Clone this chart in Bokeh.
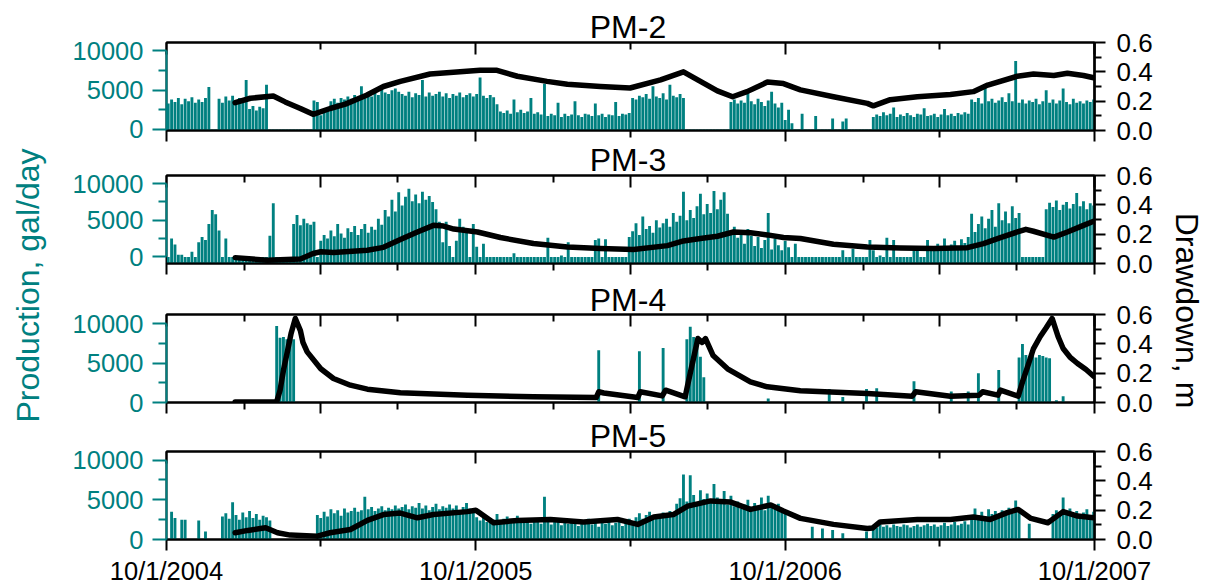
import numpy as np
from bokeh.plotting import figure
from bokeh.models import (Range1d, LinearAxis, FixedTicker, Label, GridBox,
                          CustomJSTickFormatter, NumeralTickFormatter)
from bokeh.layouts import column
from bokeh.embed import file_html
from bokeh.resources import INLINE

TEAL = "#008080"
FONT = "Liberation Sans"

# ---------------- data ----------------
START = "2004-10-01"
END = "2007-10-01"
BIN_DAYS = 4          # production values are 4-day readings starting at START

wells = ["PM-2", "PM-3", "PM-4", "PM-5"]

prod_pm2 = [
    3300, 3800, 3500, 4000, 3200, 3900, 3600, 4100, 3400, 3800,
    3500, 4000, 5400, 0, 0, 3900, 3400, 4200, 3700, 4300,
    3600, 4000, 3500, 6300, 2600, 3000, 2400, 2900, 2700, 5700,
    0, 0, 0, 0, 0, 0, 0, 0, 0, 0,
    0, 0, 0, 3700, 3500, 1800, 2200, 2600, 3600, 3900,
    3400, 4000, 3800, 4200, 3900, 4400, 4100, 5500, 4300, 4600,
    4200, 4800, 4400, 5100, 4700, 4500, 5000, 5200, 4800, 4500,
    4300, 4800, 4100, 4600, 4400, 6300, 4200, 4700, 4300, 4500,
    4800, 4200, 4600, 4000, 4500, 4300, 4700, 4100, 4400, 4600,
    4200, 4500, 6600, 4300, 4000, 4400, 4100, 3200, 2300, 2100,
    2400, 2000, 3800, 2200, 2500, 2100, 2300, 4000, 2000, 2200,
    1900, 5800, 1700, 2000, 1800, 3400, 1600, 2000, 1700, 1900,
    3600, 1800, 1600, 2000, 1900, 1700, 3300, 1800, 2000, 1600,
    1900, 1800, 3500, 1700, 2000, 1900, 2100, 4000, 3800, 4300,
    4100, 4500, 3900, 5500, 4200, 4000, 4600, 3800, 5700, 4300,
    4100, 4500, 4000, 0, 0, 0, 0, 0, 0, 0,
    0, 0, 0, 0, 0, 0, 3500, 3800, 3300, 3700,
    3400, 5100, 3600, 3200, 3900, 3500, 3000, 3700, 4800, 3300,
    2800, 3400, 1200, 2500, 800, 0, 0, 2000, 0, 0,
    0, 1700, 0, 0, 0, 0, 1400, 0, 0, 1000,
    1400, 0, 0, 0, 0, 0, 0, 0, 1600, 1900,
    1700, 2200, 1800, 2000, 2800, 1600, 1900, 1700, 2100, 1800,
    1600, 2000, 1900, 2700, 1700, 1800, 2000, 1600, 1900, 2600,
    1800, 2000, 1700, 2100, 1900, 2200, 2000, 3800, 3500, 4000,
    3300, 5300, 3600, 3900, 3400, 3700, 4100, 3500, 4600, 3600,
    8700, 3400, 3800, 3300, 3700, 3500, 3900, 3200, 3600, 5000,
    3400, 3800, 3300, 3700, 5200, 3500, 3200, 3900, 3400, 3600,
    3300, 3700, 3500, 3800,
]

prod_pm3 = [
    0, 2500, 1700, 300, 300, 0, 0, 700, 0, 2000,
    2700, 2300, 4500, 6400, 5800, 3600, 0, 2500, 0, 0,
    0, 0, 0, 0, 0, 0, 0, 0, 0, 0,
    2900, 7300, 0, 0, 0, 0, 0, 4500, 5700, 4300,
    5200, 4600, 4400, 4800, 0, 2200, 3000, 2500, 3600, 2800,
    4500, 3200, 2600, 3900, 3400, 4200, 3000, 3800, 4500, 3300,
    4100, 3700, 5200, 4400, 6400, 5500, 7800, 6200, 8800, 7000,
    8200, 9300, 7600, 8500, 7300, 8900, 7800, 8300, 7500, 6500,
    4800, 2000, 4800, 1500, 0, 2200, 5200, 4100, 3300, 0,
    4500, 1400, 0, 1800, 0, 0, 0, 0, 0, 0,
    0, 0, 500, 0, 0, 0, 0, 0, 0, 0,
    0, 0, 2600, 0, 0, 0, 200, 0, 2000, 0,
    0, 0, 0, 0, 0, 0, 2300, 2500, 0, 2400,
    0, 0, 0, 0, 0, 0, 2700, 3500, 4600, 3000,
    5500, 3800, 4200, 3300, 5000, 4000, 4600, 5200, 4100, 6000,
    4800, 5600, 8900, 5000, 6400, 5300, 6900, 8600, 5800, 7200,
    6000, 9000, 6500, 7800, 8800, 5900, 3400, 4100, 2600, 3200,
    1800, 3800, 2900, 1500, 2700, 1200, 2300, 6000, 1000, 2500,
    1600, 900, 2200, 1300, 0, 1800, 0, 0, 0, 0,
    0, 0, 0, 0, 0, 0, 0, 0, 0, 900,
    0, 0, 1100, 0, 0, 0, 0, 2300, 900, 0,
    200, 0, 2600, 0, 2300, 0, 0, 0, 0, 0,
    900, 1300, 0, 0, 2300, 1200, 900, 1800, 1500, 2500,
    1000, 1700, 2200, 1400, 2400, 1900, 2700, 5900, 3400, 4500,
    5500, 3900, 5200, 6400, 4100, 7300, 5000, 6200, 4600, 6900,
    5300, 6000, 0, 0, 0, 0, 0, 0, 0, 6500,
    7400, 6800, 7700, 6400, 7100, 7500, 6600, 7200, 8700, 6900,
    7600, 6500, 7300, 7000,
]

prod_pm4 = ([0] * 32 + [9700, 8200, 8300, 8000, 8200, 8000] + [0] * 89 + [6600]
            + [0] * 11 + [6500] + [0] * 6 + [6900] + [0] * 6
            + [8000, 9600, 8300, 8100, 5800, 3200] + [0] * 18 + [500] + [0] * 17
            + [1700] + [0] * 3 + [700] + [0] * 6 + [1700] + [0] * 2 + [1800]
            + [0] * 10 + [2700] + [0] * 10 + [1400] + [0] * 4 + [1400] + [0] * 2
            + [3700] + [0] * 5 + [4100] + [0] * 5
            + [5700, 7400, 6000, 5800, 6100, 5700, 6000, 5900, 5700, 5600]
            + [0, 300, 0, 800] + [0] * 9)

prod_pm5 = [
    0, 3500, 2700, 0, 2500, 2500, 0, 0, 0, 2400,
    0, 1000, 0, 0, 0, 0, 2900, 3300, 2600, 4700,
    3100, 2500, 3400, 2800, 3600, 2700, 3200, 2500, 3000, 2800,
    2400, 0, 0, 0, 0, 0, 0, 0, 0, 0,
    0, 0, 0, 0, 3100, 2700, 3500, 2900, 3800, 3300,
    3700, 3000, 3900, 3400, 3600, 4000, 3500, 3700, 5400, 3800,
    4100, 3600, 3900, 4200, 3700, 4000, 3800, 4300, 3900, 4100,
    4400, 3800, 4200, 4000, 4600, 3900, 4300, 3700, 4100, 4500,
    3800, 4200, 4000, 4400, 3900, 4300, 3700, 4100, 4600, 3900,
    3600, 2800, 2400, 3100, 2200, 2700, 2500, 3200, 2300, 2600,
    2900, 2100, 2500, 3000, 2200, 2700, 2400, 2000, 2600, 2300,
    2000, 5400, 2400, 1900, 2200, 2600, 1800, 2300, 2000, 2500,
    2100, 1700, 2400, 2000, 2600, 1900, 2200, 1600, 2300, 2000,
    2500, 1800, 2100, 2400, 1700, 2200, 2600, 2000, 2800, 3300,
    2600, 3100, 3500, 2900, 3200, 2700, 3400, 3000, 3600, 3100,
    4500, 5200, 8200, 4800, 8100, 5600, 4700, 6200, 5100, 5800,
    4600, 7000, 5300, 4900, 6100, 4400, 5500, 4200, 4800, 3900,
    4400, 5000, 3800, 4600, 4100, 5300, 3700, 5500, 4300, 3900,
    4500, 3600, 3300, 0, 0, 0, 0, 0, 0, 0,
    1600, 0, 0, 1400, 0, 0, 1200, 0, 0, 800,
    0, 0, 0, 0, 0, 0, 1000, 0, 1800, 1500,
    1900, 1600, 1800, 1500, 1900, 1700, 1600, 1900, 1800, 1500,
    1700, 1900, 1600, 1800, 2000, 1700, 1900, 1600, 1800, 2100,
    1700, 1900, 2200, 1800, 2000, 2300, 1900, 2800, 3900, 3100,
    3500, 2900, 3800, 3200, 3600, 3000, 3700, 3400, 4000, 3300,
    4900, 3600, 0, 0, 2000, 0, 0, 0, 0, 0,
    0, 3200, 3700, 3000, 5300, 3500, 3900, 3100, 3600, 2800,
    3400, 3800, 3000, 3500,
]

dd_dates_pm2 = ["2004-12-21", "2005-01-08", "2005-02-04", "2005-02-18", "2005-03-08",
                "2005-03-23", "2005-04-12", "2005-04-30", "2005-05-25", "2005-06-14",
                "2005-07-04", "2005-08-08", "2005-10-06", "2005-10-26", "2005-11-19",
                "2005-12-24", "2006-01-17", "2006-02-25", "2006-04-01", "2006-05-07",
                "2006-06-03", "2006-06-23", "2006-07-13", "2006-07-31", "2006-08-17",
                "2006-09-10", "2006-09-29", "2006-10-19", "2006-11-27", "2007-01-06",
                "2007-01-13", "2007-02-02", "2007-03-06", "2007-04-14", "2007-05-11",
                "2007-05-28", "2007-07-02", "2007-07-21", "2007-08-14", "2007-08-30",
                "2007-09-18", "2007-09-30"]
dd_pm2 = [0.19, 0.22, 0.235, 0.195, 0.15, 0.11, 0.15, 0.18, 0.24, 0.30,
          0.335, 0.385, 0.41, 0.41, 0.37, 0.335, 0.315, 0.30, 0.29, 0.345,
          0.40, 0.335, 0.27, 0.23, 0.265, 0.33, 0.32, 0.277, 0.23, 0.185,
          0.168, 0.21, 0.23, 0.245, 0.265, 0.31, 0.37, 0.385, 0.375, 0.39,
          0.375, 0.36]

dd_dates_pm3 = ["2004-12-21", "2005-01-28", "2005-02-12", "2005-03-08", "2005-03-23",
                "2005-04-01", "2005-04-16", "2005-05-26", "2005-06-14", "2005-07-04",
                "2005-07-24", "2005-08-12", "2005-08-24", "2005-09-05", "2005-10-03",
                "2005-10-30", "2005-12-08", "2006-01-17", "2006-02-25", "2006-04-05",
                "2006-05-15", "2006-06-03", "2006-06-23", "2006-07-13", "2006-08-01",
                "2006-08-21", "2006-09-10", "2006-09-29", "2006-10-19", "2006-11-27",
                "2007-01-06", "2007-02-14", "2007-03-25", "2007-05-04", "2007-05-23",
                "2007-06-12", "2007-07-02", "2007-07-12", "2007-07-21", "2007-08-14",
                "2007-08-30", "2007-09-18", "2007-09-30"]
dd_pm3 = [0.04, 0.022, 0.025, 0.03, 0.068, 0.08, 0.075, 0.09, 0.11, 0.163,
          0.215, 0.26, 0.255, 0.235, 0.215, 0.177, 0.136, 0.113, 0.102, 0.095,
          0.122, 0.154, 0.17, 0.186, 0.215, 0.21, 0.195, 0.177, 0.17, 0.131,
          0.113, 0.106, 0.102, 0.108, 0.136, 0.177, 0.215, 0.233, 0.22, 0.18,
          0.215, 0.26, 0.288]

dd_dates_pm4 = ["2004-12-21", "2005-02-08", "2005-02-12", "2005-02-16", "2005-02-21",
                "2005-02-25", "2005-03-02", "2005-03-08", "2005-03-11", "2005-03-16",
                "2005-04-01", "2005-04-16", "2005-05-06", "2005-05-26", "2005-07-04",
                "2005-09-21", "2005-12-08", "2006-02-20", "2006-02-23", "2006-03-01",
                "2006-04-10", "2006-04-13", "2006-05-09", "2006-05-13", "2006-06-05",
                "2006-06-11", "2006-06-20", "2006-06-25", "2006-06-29", "2006-07-08",
                "2006-07-25", "2006-08-21", "2006-09-10", "2006-10-19", "2007-01-06",
                "2007-02-28", "2007-03-04", "2007-04-14", "2007-05-18", "2007-05-22",
                "2007-06-09", "2007-06-12", "2007-07-03", "2007-07-08", "2007-07-14",
                "2007-07-21", "2007-07-29", "2007-08-05", "2007-08-12", "2007-08-19",
                "2007-08-25", "2007-09-02", "2007-09-11", "2007-09-21", "2007-09-30"]
dd_pm4 = [0.003, 0.005, 0.084, 0.22, 0.357, 0.47, 0.573, 0.49, 0.41, 0.345,
          0.23, 0.164, 0.118, 0.091, 0.067, 0.05, 0.039, 0.034, 0.073, 0.065,
          0.034, 0.073, 0.045, 0.084, 0.039, 0.2, 0.436, 0.41, 0.436, 0.32,
          0.23, 0.14, 0.107, 0.08, 0.061, 0.043, 0.073, 0.043, 0.05, 0.073,
          0.05, 0.084, 0.043, 0.14, 0.243, 0.368, 0.45, 0.51, 0.573, 0.45,
          0.368, 0.31, 0.266, 0.225, 0.18]

dd_dates_pm5 = ["2004-12-21", "2005-01-05", "2005-01-20", "2005-01-26", "2005-02-09",
                "2005-02-24", "2005-03-28", "2005-04-12", "2005-05-06", "2005-05-26",
                "2005-06-14", "2005-07-04", "2005-07-24", "2005-08-12", "2005-09-21",
                "2005-10-01", "2005-10-22", "2005-11-19", "2005-12-28", "2006-02-05",
                "2006-03-17", "2006-04-10", "2006-04-29", "2006-05-22", "2006-06-08",
                "2006-07-05", "2006-07-28", "2006-08-21", "2006-09-14", "2006-09-29",
                "2006-10-19", "2006-11-27", "2007-01-06", "2007-01-12", "2007-01-21",
                "2007-03-06", "2007-04-14", "2007-05-11", "2007-05-31", "2007-06-20",
                "2007-07-03", "2007-07-18", "2007-08-07", "2007-08-25", "2007-09-11",
                "2007-09-30"]
dd_pm5 = [0.046, 0.062, 0.075, 0.08, 0.046, 0.03, 0.023, 0.046, 0.068, 0.13,
          0.17, 0.18, 0.148, 0.17, 0.19, 0.2, 0.114, 0.13, 0.137, 0.12,
          0.137, 0.103, 0.153, 0.17, 0.228, 0.263, 0.256, 0.205, 0.235, 0.194,
          0.144, 0.103, 0.075, 0.078, 0.12, 0.137, 0.137, 0.153, 0.137, 0.183,
          0.205, 0.144, 0.114, 0.19, 0.16, 0.148]

year_ticks = ["2004-10-01", "2005-10-01", "2006-10-01", "2007-10-01"]
april_ticks = ["2005-04-01", "2006-04-01", "2007-04-01"]
quarter_ticks = ["2005-01-01", "2005-07-01", "2006-01-01", "2006-07-01",
                 "2007-01-01", "2007-07-01"]

prod_ticks = [0, 5000, 10000]
prod_minor = [2500, 7500]
dd_ticks = [0.0, 0.2, 0.4, 0.6]
dd_minor = [0.1, 0.3, 0.5]

prod_lo = [-130, -900, 0, 0]
prod_hi = [11060, 11100, 11140, 11090]

# ---------------- helpers ----------------
W, H = 1205, 585
TXT_SHIFT = 11   # Bokeh draws the alphabetic baseline this many px lower than the anchor


def ms(d):
    return np.atleast_1d(np.array(d, dtype="datetime64[ms]")).astype("int64").astype(float)


X0 = ms(START)[0]
X1 = ms(END)[0]
DAY = 86400000.0


def bar_centers(n):
    base = np.datetime64(START, "D")
    d = base + np.arange(n) * BIN_DAYS
    return d.astype("datetime64[ms]").astype("int64").astype(float) + 2 * DAY


def make_panel(i, prod, dd_dates, dd_vals, top_b, bot_b, quarterly, show_labels):
    p = figure(width=W, frame_width=928, frame_height=88,
               min_border_left=166, min_border_right=111,
               min_border_top=top_b, min_border_bottom=bot_b,
               x_range=Range1d(X0, X1), y_range=Range1d(prod_lo[i], prod_hi[i]),
               x_axis_location=None, y_axis_location=None,
               toolbar_location=None, tools="", output_backend="svg")
    p.grid.visible = False
    p.extra_y_ranges = {"dd": Range1d(0, 0.6)}
    p.outline_line_color = "black"
    p.outline_line_width = 2
    p.background_fill_color = "white"
    p.border_fill_color = "white"

    p.vbar(x=bar_centers(len(prod)), width=3.4 * DAY, top=prod, bottom=prod_lo[i],
           fill_color=TEAL, line_color=None)
    p.line(x=ms(dd_dates), y=dd_vals, y_range_name="dd", line_color="black",
           line_width=5.5, line_join="round", line_cap="round")

    la = LinearAxis(ticker=FixedTicker(ticks=prod_ticks, minor_ticks=prod_minor),
                    bounds=(0, 10000))
    la.axis_line_color = TEAL
    la.axis_line_width = 2
    la.major_tick_line_color = TEAL
    la.minor_tick_line_color = TEAL
    la.major_tick_line_width = 2
    la.minor_tick_line_width = 2
    la.major_tick_out = 14
    la.major_tick_in = 0
    la.minor_tick_out = 8
    la.minor_tick_in = 0
    la.major_label_text_color = TEAL
    la.major_label_text_font = FONT
    la.major_label_text_font_size = "25.5px"
    la.major_label_standoff = 9
    p.add_layout(la, "left")

    ra = LinearAxis(y_range_name="dd",
                    ticker=FixedTicker(ticks=dd_ticks, minor_ticks=dd_minor),
                    formatter=NumeralTickFormatter(format="0.0"))
    ra.axis_line_color = "black"
    ra.axis_line_width = 2.5
    ra.major_tick_line_width = 2
    ra.minor_tick_line_width = 2
    ra.major_tick_out = 11
    ra.major_tick_in = 0
    ra.minor_tick_out = 7
    ra.minor_tick_in = 0
    ra.major_label_text_color = "black"
    ra.major_label_text_font = FONT
    ra.major_label_text_font_size = "26px"
    ra.major_label_standoff = 11
    p.add_layout(ra, "right")

    if quarterly:
        major = ms(sorted(year_ticks + april_ticks))
        minor = ms(quarter_ticks)
    else:
        major = ms(year_ticks)
        minor = ms(april_ticks)

    blank = CustomJSTickFormatter(code="return '';")
    date_fmt = CustomJSTickFormatter(code="""
        const d = new Date(tick);
        return (d.getUTCMonth() + 1) + '/' + d.getUTCDate() + '/' + d.getUTCFullYear();
    """)

    for loc in ("below", "above"):
        ax = LinearAxis(ticker=FixedTicker(ticks=list(major), minor_ticks=list(minor)))
        ax.axis_line_color = "black"
        ax.axis_line_width = 2
        ax.major_tick_line_width = 2
        ax.minor_tick_line_width = 2
        if loc == "below":
            ax.major_tick_out, ax.major_tick_in = 11, 0
            ax.minor_tick_out, ax.minor_tick_in = 7, 0
        else:
            ax.major_tick_out, ax.major_tick_in = 0, 12
            ax.minor_tick_out, ax.minor_tick_in = 0, 7
        if loc == "below" and show_labels:
            ax.formatter = date_fmt
            ax.major_label_text_font = FONT
            ax.major_label_text_font_size = "25.5px"
            ax.major_label_text_color = "black"
            ax.major_label_standoff = 6
        else:
            ax.formatter = blank
            ax.major_label_text_font_size = "0px"
            ax.major_label_standoff = 0
        p.add_layout(ax, loc)
    return p


p2 = make_panel(0, prod_pm2, dd_dates_pm2, dd_pm2, 42, 16, False, False)
p3 = make_panel(1, prod_pm3, dd_dates_pm3, dd_pm3, 29, 22, True, False)
p4 = make_panel(2, prod_pm4, dd_dates_pm4, dd_pm4, 29, 22, True, False)
p5 = make_panel(3, prod_pm5, dd_dates_pm5, dd_pm5, 27, 46, False, True)
panels = column(p2, p3, p4, p5)

# transparent overlay carrying the panel titles and the shared axis titles
ov = figure(width=W, height=H, x_range=Range1d(0, W), y_range=Range1d(0, H),
            min_border=0, x_axis_location=None, y_axis_location=None,
            toolbar_location=None, tools="", output_backend="svg")
ov.grid.visible = False
ov.outline_line_color = None
ov.background_fill_color = None
ov.border_fill_color = None

title_base = [37.5, 170.5, 310.0, 446.7]   # wanted baseline of each title (px from top)
for name, yb in zip(wells, title_base):
    ov.add_layout(Label(x=627.5, y=H - yb + TXT_SHIFT, text=name, text_align="center",
                        text_baseline="alphabetic", text_font=FONT,
                        text_font_size="32px", text_color="black"))
ov.add_layout(Label(x=38 - TXT_SHIFT, y=H - 285, text="Production, gal/day",
                    angle=np.pi / 2, text_align="center", text_baseline="alphabetic",
                    text_font=FONT, text_font_size="32px", text_color=TEAL))
ov.add_layout(Label(x=1175 + TXT_SHIFT, y=H - 310, text="Drawdown, m",
                    angle=-np.pi / 2, text_align="center", text_baseline="alphabetic",
                    text_font=FONT, text_font_size="32px", text_color="black"))

layout = GridBox(children=[(panels, 0, 0), (ov, 0, 0)])

open("out.html", "w").write(file_html(layout, INLINE))
